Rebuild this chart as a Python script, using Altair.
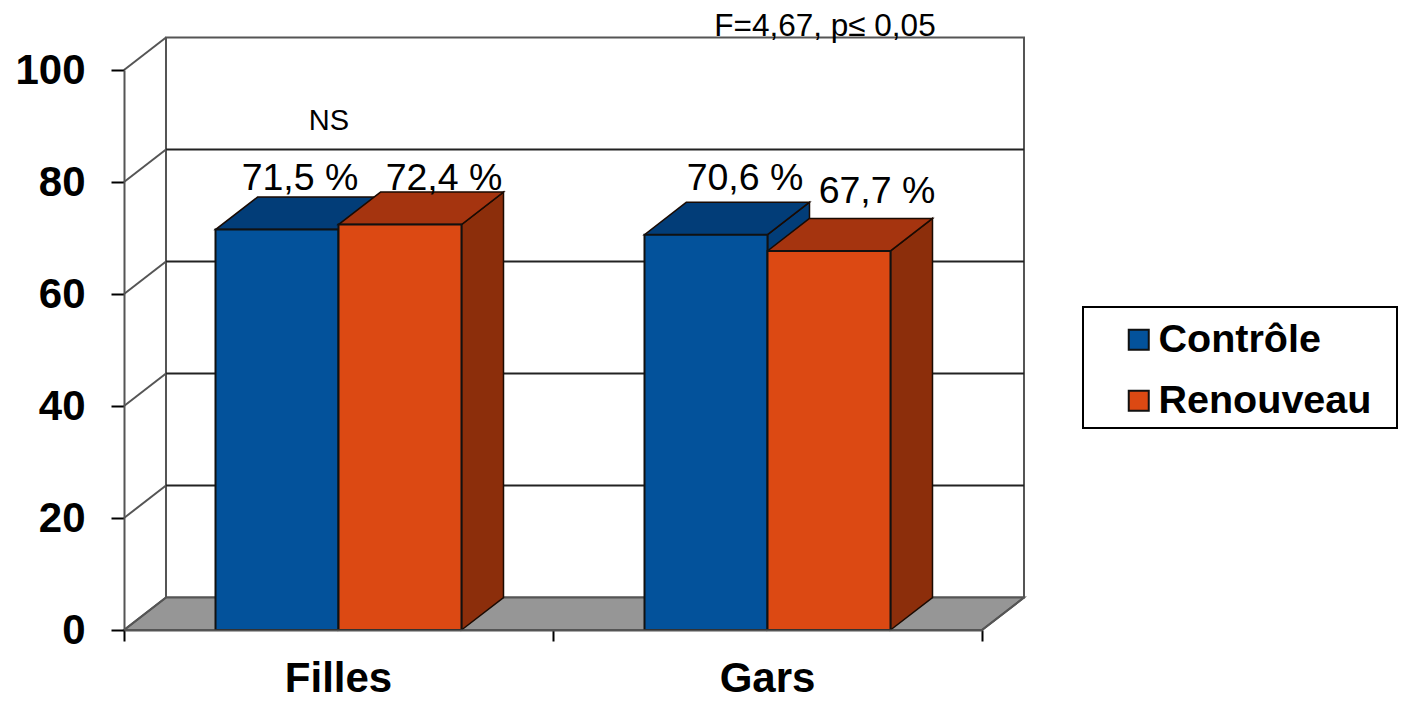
import altair as alt
import pandas as pd

categories = ["Filles", "Gars"]
series = ["Contrôle", "Renouveau"]
controle = [71.5, 70.6]
renouveau = [72.4, 67.7]
bar_labels = [["71,5 %", "70,6 %"], ["72,4 %", "67,7 %"]]
y_ticks = [0, 20, 40, 60, 80, 100]
x_ticks = [0, 1, 2]
annotations = ["NS", "F=4,67, p≤ 0,05"]

FONT = "Liberation Sans"
COLORS = {"Contrôle": "#03529B", "Renouveau": "#DC4913"}
TOPS = {"Contrôle": "#023D78", "Renouveau": "#A5340F"}
SIDES = {"Contrôle": "#023D78", "Renouveau": "#8C2E0B"}
DX, DY = 0.0979, 5.8
BW = 123 / 429

xs = alt.Scale(domain=[0, 2], nice=False, zero=False)
ys = alt.Scale(domain=[0, 100], nice=False, zero=False)


def X(f="x"):
    return alt.X(f"{f}:Q", scale=xs, axis=None)


def Y(f="y"):
    return alt.Y(f"{f}:Q", scale=ys, axis=None)


rows = []
for i, s in enumerate(series):
    vals = controle if i == 0 else renouveau
    for j, v in enumerate(vals):
        left = j + 0.5 - BW + i * BW
        rows.append(dict(s=s, cat=categories[j], v=v, left=left, right=left + BW,
                         label=bar_labels[i][j], key=f"{s}{j}"))
bars = pd.DataFrame(rows)

# label centre (category units) and height (value units)
bars["lx"] = [(300 - 124) / 429, (745 - 124) / 429, (444 - 124) / 429, (877 - 124) / 429]
bars["ly"] = [78.6, 78.6, 78.6, 76.25]

layers = []

# Axes layer: zindex puts them over the marks
ax = pd.DataFrame(dict(x=[0.0], y=[0.0]))
layers.append(alt.Chart(ax).mark_point(opacity=0).encode(
    x=alt.X("x:Q", scale=xs, axis=alt.Axis(values=x_ticks, labels=False, title=None, grid=False, tickSize=11,
                                           tickColor="black", tickWidth=2, domainColor="#555555", domainWidth=2, zindex=1)),
    y=alt.Y("y:Q", scale=ys, axis=alt.Axis(values=y_ticks, title=None, grid=False, tickSize=13, tickColor="black",
                                           tickWidth=2, domainColor="#555555", domainWidth=2, labelFont=FONT,
                                           labelFontWeight="bold", labelFontSize=42, labelColor="black",
                                           labelPadding=26, labelOverlap=False, zindex=1)),
))

# Back wall
wall = pd.DataFrame([dict(x=DX, x2=2 + DX, y=DY, y2=100 + DY)])
layers.append(alt.Chart(wall).mark_rect(fill="white", stroke="#555555", strokeWidth=2).encode(
    x=X(), x2="x2:Q", y=Y(), y2="y2:Q"))

# Floor
floor = pd.DataFrame([dict(y=0, x=0, x2=2), dict(y=DY, x=DX, x2=2 + DX)])
layers.append(alt.Chart(floor).mark_area(orient="horizontal", fill="#969696", stroke="#555555", strokeWidth=2).encode(
    y=Y(), x=X(), x2="x2:Q"))

# Back grid lines
grid = pd.DataFrame([dict(x=DX, x2=2 + DX, y=v + DY) for v in y_ticks[1:-1]])
layers.append(alt.Chart(grid).mark_rule(stroke="#222222", strokeWidth=2).encode(
    x=X(), x2="x2:Q", y=Y()))

# Side wall slants, at each tick
slant = pd.DataFrame([dict(x=0, x2=DX, y=v, y2=v + DY) for v in y_ticks]
                     + [dict(x=2, x2=2 + DX, y=0, y2=DY)])
layers.append(alt.Chart(slant).mark_rule(stroke="#555555", strokeWidth=2).encode(
    x=X(), x2="x2:Q", y=Y(), y2="y2:Q"))

# Bars: side and top faces, series by series
for s in series:
    sub = bars[bars.s == s]
    side = pd.DataFrame([dict(key=r.key, x=r.right + d * DX, y=d * DY, y2=r.v + d * DY)
                         for r in sub.itertuples() for d in (0, 1)])
    top = pd.DataFrame([dict(key=r.key, y=r.v + d * DY, x=r.left + d * DX, x2=r.right + d * DX)
                        for r in sub.itertuples() for d in (0, 1)])
    layers.append(alt.Chart(side).mark_area(orient="vertical", fill=SIDES[s], stroke="#1a0a02", strokeWidth=1.5).encode(
        x=X(), y=Y(), y2="y2:Q", detail="key:N"))
    layers.append(alt.Chart(top).mark_area(orient="horizontal", fill=TOPS[s], stroke="#1a0a02", strokeWidth=1.5).encode(
        y=Y(), x=X(), x2="x2:Q", detail="key:N"))

# Legend frame
frame = pd.DataFrame([dict(a=1)])
layers.append(alt.Chart(frame).mark_rect(fill="white", stroke="black", strokeWidth=2).encode(
    x=alt.value(1083 - 124), x2=alt.value(1397 - 124), y=alt.value(307 - 70), y2=alt.value(428 - 70)))

# Front faces, carrying the legend
layers.append(alt.Chart(bars).mark_rect(stroke="#111111", strokeWidth=2).encode(
    x=alt.X("left:Q", scale=xs, axis=None), x2="right:Q",
    y=alt.Y("v:Q", scale=ys, axis=None), y2=alt.datum(0),
    fill=alt.Fill("s:N", scale=alt.Scale(domain=series, range=[COLORS[s] for s in series]),
                  legend=alt.Legend(orient="none", legendX=1119 - 124, legendY=307 - 70 + 13, title=None,
                                    padding=0, symbolType="square", symbolSize=400, symbolStrokeColor="#111111",
                                    symbolStrokeWidth=2, symbolOpacity=1, labelFont=FONT, labelFontWeight="bold",
                                    labelFontSize=39.5, labelColor="black", labelLimit=400, labelOffset=0)),
))

# Bar value labels
layers.append(alt.Chart(bars).mark_text(font=FONT, fontSize=37.5, color="black", align="center", baseline="alphabetic").encode(
    x=alt.X("lx:Q", scale=xs, axis=None), y=alt.Y("ly:Q", scale=ys, axis=None), text="label:N"))

# Category labels
cats = pd.DataFrame(dict(c=categories, x=[0.5, 1.5]))
layers.append(alt.Chart(cats).mark_text(font=FONT, fontSize=42, fontWeight="bold", color="black", align="center", baseline="alphabetic").encode(
    x=X(), y=alt.value(692 - 70), text="c:N"))

# Annotations
ann = pd.DataFrame(dict(t=annotations, x=[(329 - 124) / 429, (825 - 124) / 429],
                        y=[(630 - 130) / 5.6, (630 - 36) / 5.6], fs=[29, 31.5]))
for r in ann.itertuples():
    layers.append(alt.Chart(ann[ann.t == r.t]).mark_text(font=FONT, fontSize=r.fs, color="black", align="center", baseline="alphabetic").encode(
        x=X(), y=Y(), text="t:N"))

chart = alt.layer(*layers).resolve_axis(x="independent", y="independent").properties(
    width=858, height=560,
    autosize=alt.AutoSizeParams(type="none"),
    padding={"left": 116, "top": 62, "right": 416, "bottom": 71},
    background="white",
).configure_view(stroke=None).configure_legend(rowPadding=20)

chart.save("out.html", embed_options={"renderer": "svg", "actions": False})
